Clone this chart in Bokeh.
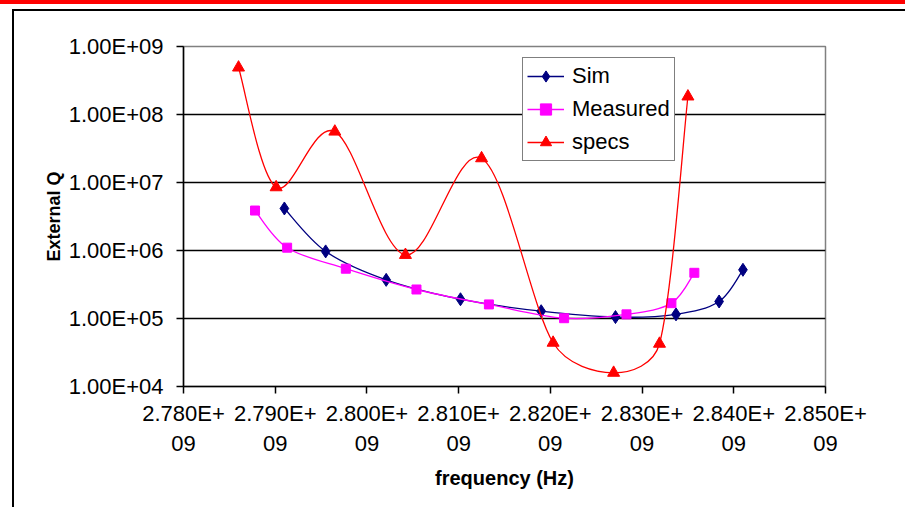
from bokeh.plotting import figure
from bokeh.models import (FixedTicker, Legend, LegendItem, ColumnDataSource, Range1d)
from bokeh.embed import file_html
from bokeh.resources import INLINE
import math

# ---------------- data ----------------
sim_f = [2.7910e9, 2.7955e9, 2.8021e9, 2.8102e9, 2.8190e9, 2.8271e9, 2.8337e9, 2.8384e9, 2.8410e9]
sim_q = [4.15e6, 9.7e5, 3.7e5, 1.92e5, 1.28e5, 1.05e5, 1.15e5, 1.78e5, 5.2e5]

meas_f = [2.7878e9, 2.7913e9, 2.7977e9, 2.8054e9, 2.8133e9, 2.8215e9, 2.8283e9, 2.8332e9, 2.8357e9]
meas_q = [3.87e6, 1.10e6, 5.4e5, 2.67e5, 1.61e5, 1.01e5, 1.15e5, 1.68e5, 4.7e5]

spec_f = [2.7860e9, 2.7901e9, 2.7965e9, 2.8042e9, 2.8125e9, 2.8203e9, 2.8269e9, 2.8319e9, 2.8350e9]
spec_q = [4.9e8, 8.5e6, 5.6e7, 8.6e5, 2.27e7, 4.4e4, 1.59e4, 4.25e4, 1.84e8]

x_ticks = [2.78e9, 2.79e9, 2.80e9, 2.81e9, 2.82e9, 2.83e9, 2.84e9, 2.85e9]
x_tick_labels = ["2.780E+\n09", "2.790E+\n09", "2.800E+\n09", "2.810E+\n09",
                 "2.820E+\n09", "2.830E+\n09", "2.840E+\n09", "2.850E+\n09"]
y_ticks = [1e4, 1e5, 1e6, 1e7, 1e8, 1e9]
y_tick_labels = ["1.00E+04", "1.00E+05", "1.00E+06", "1.00E+07", "1.00E+08", "1.00E+09"]

series_names = ["Sim", "Measured", "specs"]
series_colors = ["#000080", "#FF00FF", "#FF0000"]

FONT = "Liberation Sans"

X0, X1, Y0, Y1 = 2.78e9, 2.85e9, 1e4, 1e9
FRAME_W, FRAME_H = 642, 340

p = figure(width=905, height=507, output_backend="svg", toolbar_location=None,
           y_axis_type="log",
           x_range=Range1d(X0, X1), y_range=Range1d(Y0, Y1),
           min_border_left=183, min_border_right=80, min_border_top=46,
           min_border_bottom=121)
p.background_fill_color = "white"
p.border_fill_color = "white"
p.border_fill_alpha = 0.0
p.outline_line_color = "#808080"
p.outline_line_width = 1.5
# slide decorations (red bar on top, black frame lines) drawn as CSS background of the page element
p.styles = {
    "background": ("linear-gradient(#FF0000,#FF0000) 0px 0px / 100% 4px no-repeat, "
                   "linear-gradient(#000,#000) 12px 9px / 893px 2px no-repeat, "
                   "linear-gradient(#000,#000) 12px 9px / 2px 498px no-repeat, "
                   "#FFFFFF"),
}

# axes
p.xaxis.ticker = FixedTicker(ticks=x_ticks)
p.xaxis.major_label_overrides = {t: l for t, l in zip(x_ticks, x_tick_labels)}
p.yaxis.ticker = FixedTicker(ticks=y_ticks)
p.yaxis.major_label_overrides = {t: l for t, l in zip(y_ticks, y_tick_labels)}
for ax in (p.xaxis[0], p.yaxis[0]):
    ax.axis_line_color = "black"
    ax.axis_line_width = 1.5
    ax.major_tick_line_color = "black"
    ax.major_tick_line_width = 1.5
    ax.major_tick_out = 7
    ax.major_tick_in = 0
    ax.minor_tick_line_color = None
    ax.major_label_text_font = FONT
    ax.major_label_text_font_size = "22px"
    ax.major_label_text_color = "black"
    ax.axis_label_text_font = FONT
    ax.axis_label_text_font_style = "bold"
    ax.axis_label_text_color = "black"
p.yaxis.axis_label = "External Q"
p.yaxis.axis_label_text_font_size = "18px"
p.yaxis.major_label_standoff = 13
p.yaxis.axis_label_standoff = 2
p.xaxis.axis_label = "frequency (Hz)"
p.xaxis.axis_label_text_font_size = "20px"
p.xaxis.major_label_standoff = 7
p.xaxis.axis_label_standoff = 8

p.xgrid.grid_line_color = None
p.ygrid.ticker = FixedTicker(ticks=[1e5, 1e6, 1e7, 1e8])
p.ygrid.grid_line_color = "black"
p.ygrid.grid_line_width = 1.5


def smooth_segments(xs, ys):
    """Excel-like smoothing: Catmull-Rom bezier control points computed in screen-proportional
    x / log10(y) space, with the handle length limited relative to the segment length."""
    sx = FRAME_W / (X1 - X0)
    sy = FRAME_H / (math.log10(Y1) - math.log10(Y0))
    px = [(v - X0) * sx for v in xs]
    py = [math.log10(v) * sy for v in ys]
    n = len(xs)
    d = dict(x0=[], y0=[], x1=[], y1=[], cx0=[], cy0=[], cx1=[], cy1=[])

    def handle(i_prev, i_next, seg_len):
        tx = (px[i_next] - px[i_prev]) / 6.0
        ty = (py[i_next] - py[i_prev]) / 6.0
        ln = math.hypot(tx, ty)
        lim = 0.4 * seg_len
        if ln > lim and ln > 0:
            tx, ty = tx * lim / ln, ty * lim / ln
        return tx, ty

    for i in range(n - 1):
        i0 = max(i - 1, 0)
        i3 = min(i + 2, n - 1)
        seg = math.hypot(px[i + 1] - px[i], py[i + 1] - py[i])
        t0x, t0y = handle(i0, i + 1, seg)
        t1x, t1y = handle(i, i3, seg)
        c0x, c0y = px[i] + t0x, py[i] + t0y
        c1x, c1y = px[i + 1] - t1x, py[i + 1] - t1y
        d["x0"].append(xs[i]); d["y0"].append(ys[i])
        d["x1"].append(xs[i + 1]); d["y1"].append(ys[i + 1])
        d["cx0"].append(X0 + c0x / sx); d["cy0"].append(10 ** (c0y / sy))
        d["cx1"].append(X0 + c1x / sx); d["cy1"].append(10 ** (c1y / sy))
    return ColumnDataSource(d)


items = []
specs = [
    (sim_f, sim_q, "diamond", 13),
    (meas_f, meas_q, "square", 9),
    (spec_f, spec_q, "triangle", 12),
]
for (xs, ys, marker, size), name, color in zip(specs, series_names, series_colors):
    src = smooth_segments(xs, ys)
    b = p.bezier(x0="x0", y0="y0", x1="x1", y1="y1", cx0="cx0", cy0="cy0",
                 cx1="cx1", cy1="cy1", source=src, line_color=color, line_width=1.3)
    s = p.scatter(xs, ys, marker=marker, size=size, fill_color=color, line_color=color)
    items.append(LegendItem(label=name, renderers=[b, s]))

legend = Legend(items=items, location=(339, 225), orientation="vertical",
                border_line_color="black", border_line_width=1.5,
                background_fill_color="white", background_fill_alpha=1.0,
                label_text_font=FONT, label_text_font_size="22px",
                label_text_color="black",
                glyph_width=37, glyph_height=28, label_height=28,
                label_standoff=8, spacing=5, padding=4, margin=0)
p.add_layout(legend, "center")

open("out.html", "w").write(file_html(p, INLINE))
